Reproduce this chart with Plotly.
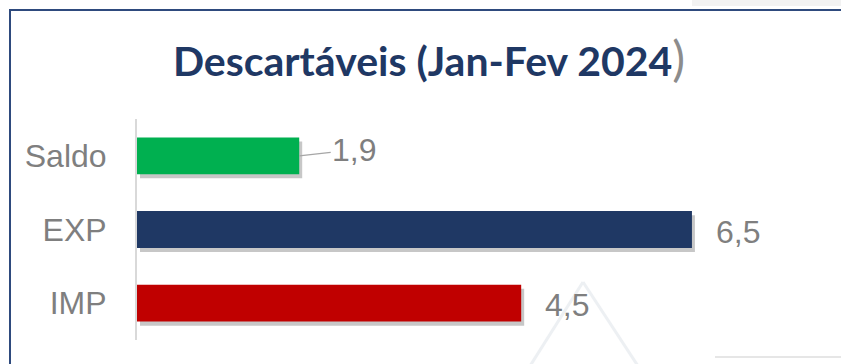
import plotly.graph_objects as go

# Data
categories = ["Saldo", "EXP", "IMP"]
values = [1.9, 6.5, 4.5]
value_labels = ["1,9", "6,5", "4,5"]
bar_colors = ["#00B050", "#1F3864", "#C00000"]

title_text = "Descartáveis (Jan-Fev 2024"

W, H = 841, 364
L, R, T, B = 137, 21, 119, 24
plot_w = W - L - R
plot_h = H - T - B
x_max = 8.0

grey = "#7F7F7F"
label_font = dict(family="Liberation Sans, Arial", size=32, color=grey)

fig = go.Figure()

# soft drop shadow under each bar
fig.add_trace(go.Bar(
    y=categories, x=values, orientation="h",
    base=0.035, width=0.5, offset=-0.25 + 0.055,
    marker=dict(color="rgba(0,0,0,0.22)", line=dict(width=0)),
    hoverinfo="skip", showlegend=False,
))
# main bars
fig.add_trace(go.Bar(
    y=categories, x=values, orientation="h",
    width=0.5, offset=-0.25,
    marker=dict(color=bar_colors, line=dict(width=0)),
    showlegend=False,
))

# value labels
for cat, v, lab in zip(categories, values, value_labels):
    if cat == "Saldo":
        fig.add_annotation(
            x=v, y=cat, xref="x", yref="y", text=lab,
            showarrow=True, arrowhead=0, arrowwidth=1.2, arrowcolor="#A6A6A6",
            ax=55, ay=-6, xanchor="center", yanchor="middle",
            font=label_font,
        )
    else:
        fig.add_annotation(
            x=v, y=cat, xref="x", yref="y", text=lab,
            showarrow=False, xanchor="left", yanchor="middle",
            xshift=22, yshift=-2,
            font=label_font,
        )

# outer frame and faint background decoration
def px_to_paper_x(px):
    return (px - L) / plot_w

def px_to_paper_y(py):
    return (H - B - py) / plot_h

shapes = [
    dict(type="rect", xref="paper", yref="paper",
         x0=px_to_paper_x(10), x1=px_to_paper_x(900),
         y0=px_to_paper_y(420), y1=px_to_paper_y(10),
         line=dict(color="#2E4A7D", width=2), fillcolor="rgba(0,0,0,0)", layer="below"),
    dict(type="rect", xref="paper", yref="paper",
         x0=px_to_paper_x(692), x1=px_to_paper_x(845),
         y0=px_to_paper_y(6), y1=px_to_paper_y(-2),
         line=dict(width=0), fillcolor="#F2F2F2", layer="below"),
    dict(type="line", xref="paper", yref="paper",
         x0=px_to_paper_x(583), y0=px_to_paper_y(282),
         x1=px_to_paper_x(530), y1=px_to_paper_y(366),
         line=dict(color="#EDF0F3", width=3), layer="below"),
    dict(type="line", xref="paper", yref="paper",
         x0=px_to_paper_x(583), y0=px_to_paper_y(282),
         x1=px_to_paper_x(638), y1=px_to_paper_y(366),
         line=dict(color="#EDF0F3", width=3), layer="below"),
    dict(type="line", xref="paper", yref="paper",
         x0=px_to_paper_x(715), y0=px_to_paper_y(357),
         x1=px_to_paper_x(845), y1=px_to_paper_y(357),
         line=dict(color="#E6E6E6", width=2), layer="below"),
]

fig.update_layout(
    width=W, height=H,
    margin=dict(l=L, r=R, t=T, b=B, pad=0),
    paper_bgcolor="white", plot_bgcolor="rgba(0,0,0,0)",
    barmode="overlay",
    title=dict(
        text="<b>" + title_text + "</b><span style='color:#8C8C8C;font-size:48px'>)</span>",
        x=px_to_paper_x(429), xanchor="center", xref="paper",
        y=1 - 62 / H, yanchor="middle", yref="container",
        font=dict(family="Lato, DejaVu Sans", size=41, color="#1F3864"),
    ),
    xaxis=dict(range=[0, x_max], visible=False, fixedrange=True),
    yaxis=dict(
        categoryorder="array", categoryarray=categories,
        autorange="reversed",
        showline=True, linecolor="#D9D9D9", linewidth=2,
        showgrid=False, zeroline=False,
        ticks="outside", ticklen=22, tickcolor="rgba(0,0,0,0)",
        tickfont=label_font,
    ),
    shapes=shapes,
    showlegend=False,
)

fig.write_html("out.html")
